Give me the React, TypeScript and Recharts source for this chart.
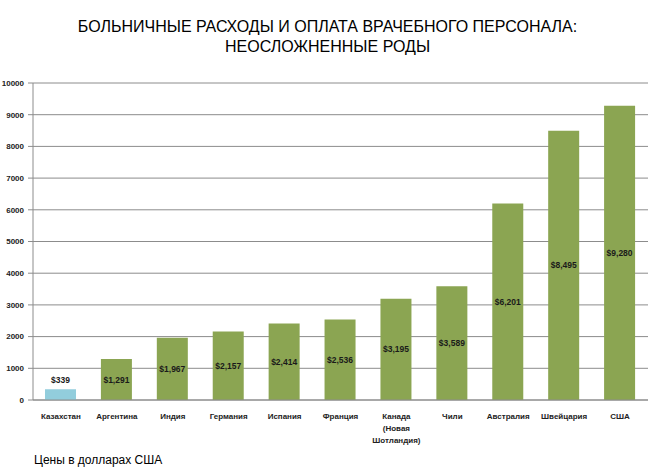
import { BarChart, Bar, XAxis, YAxis, CartesianGrid, Cell, LabelList } from 'recharts';

const countries = [
  'Казахстан', 'Аргентина', 'Индия', 'Германия', 'Испания', 'Франция',
  'Канада\n(Новая\nШотландия)', 'Чили', 'Австралия', 'Швейцария', 'США',
];
const costs = [339, 1291, 1967, 2157, 2414, 2536, 3195, 3589, 6201, 8495, 9280];
const yTicks = [0, 1000, 2000, 3000, 4000, 5000, 6000, 7000, 8000, 9000, 10000];

const data = countries.map((name, i) => ({ name, value: costs[i] }));

const FONT = '"Liberation Sans", Arial, sans-serif';
const GREEN = '#8ba552';
const BLUE = '#92cddc';

const fmt = (v: number) => '$' + v.toLocaleString('en-US');

function CountryTick({ x, y, payload }: any) {
  const lines = String(payload.value).split('\n');
  return (
    <text x={x} y={y + 11} textAnchor="middle" fontFamily={FONT} fontSize={8} fontWeight="bold" fill="#222">
      {lines.map((l, i) => (
        <tspan key={i} x={x} dy={i === 0 ? 0 : 12}>{l}</tspan>
      ))}
    </text>
  );
}

function ValueLabel({ x, y, width, height, value, index }: any) {
  const cx = x + width / 2;
  const first = index === 0;
  const ty = first ? y - 6 : y + height / 2 + 3;
  return (
    <text x={cx} y={ty} textAnchor="middle" fontFamily={FONT} fontSize={8.5} fontWeight="bold" fill="#1a1a1a">
      {fmt(value)}
    </text>
  );
}

export default function App() {
  return (
    <div style={{ position: 'absolute', left: 0, top: 0, width: 655, height: 472, background: '#fff', fontFamily: FONT }}>
      <div style={{ position: 'absolute', left: 0, top: 17, width: 655, textAlign: 'center', fontSize: 16, lineHeight: '20px', color: '#000' }}>
        БОЛЬНИЧНЫЕ РАСХОДЫ И ОПЛАТА ВРАЧЕБНОГО ПЕРСОНАЛА:<br />НЕОСЛОЖНЕННЫЕ РОДЫ
      </div>
      <BarChart
        width={655}
        height={472}
        data={data}
        margin={{ top: 83, right: 7, left: 0, bottom: 22 }}
        barCategoryGap={0}
      >
        <CartesianGrid vertical={false} stroke="#8c8c8c" />
        <XAxis
          dataKey="name"
          interval={0}
          height={50}
          tick={<CountryTick />}
          tickLine={false}
          axisLine={{ stroke: '#8c8c8c' }}
        />
        <YAxis
          domain={[0, 10000]}
          ticks={yTicks}
          width={33}
          tick={{ fontFamily: FONT, fontSize: 8, fontWeight: 'bold', fill: '#222' }}
          tickSize={5}
          tickMargin={4}
          tickLine={{ stroke: '#8c8c8c' }}
          axisLine={{ stroke: '#8c8c8c' }}
          interval={0}
        />
        <Bar dataKey="value" barSize={31} isAnimationActive={false}>
          {data.map((d, i) => (
            <Cell key={d.name} fill={i === 0 ? BLUE : GREEN} />
          ))}
          <LabelList dataKey="value" content={<ValueLabel />} />
        </Bar>
      </BarChart>
      <div style={{ position: 'absolute', left: 34, top: 453, fontSize: 12, color: '#000' }}>
        Цены в долларах США
      </div>
    </div>
  );
}
